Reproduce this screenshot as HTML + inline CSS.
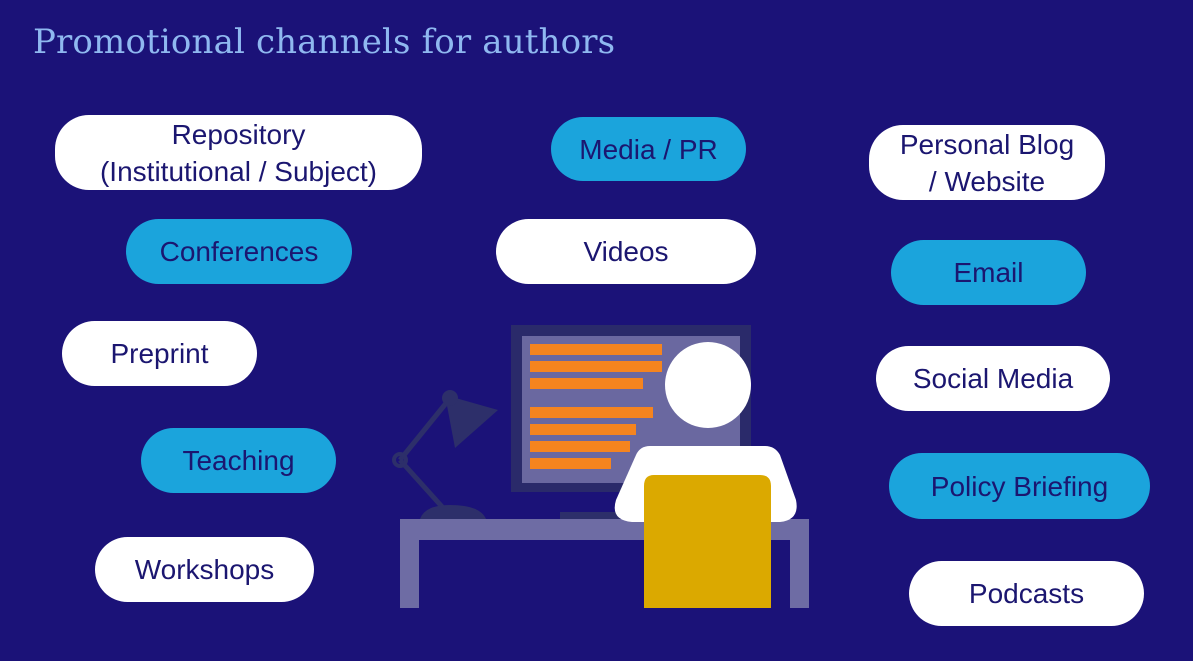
<!DOCTYPE html>
<html><head><style>
body{margin:0;width:1193px;height:661px;background:#1b1278;position:relative;overflow:hidden;font-family:"Liberation Sans",sans-serif}
h1{position:absolute;left:33px;top:22px;margin:0;font:400 34px "DejaVu Serif",serif;color:#8fb8f0;letter-spacing:0.15px}
.p{position:absolute;border-radius:34px;display:flex;align-items:center;justify-content:center;text-align:center;color:#1b1670;font-size:28px;line-height:37px}
.w{background:#fff}.b{background:#1ba4dc}
</style></head><body>
<h1>Promotional channels for authors</h1>
<div class="p w" style="left:55px;top:115px;width:367px;height:75px">Repository<br>(Institutional / Subject)</div>
<div class="p b" style="left:551px;top:117px;width:195px;height:64px">Media / PR</div>
<div class="p w" style="left:869px;top:125px;width:236px;height:75px">Personal Blog<br>/ Website</div>
<div class="p b" style="left:126px;top:219px;width:226px;height:65px">Conferences</div>
<div class="p w" style="left:496px;top:219px;width:260px;height:65px">Videos</div>
<div class="p b" style="left:891px;top:240px;width:195px;height:65px">Email</div>
<div class="p w" style="left:62px;top:321px;width:195px;height:65px">Preprint</div>
<div class="p w" style="left:876px;top:346px;width:234px;height:65px">Social Media</div>
<div class="p b" style="left:141px;top:428px;width:195px;height:65px">Teaching</div>
<div class="p b" style="left:889px;top:453px;width:261px;height:66px">Policy Briefing</div>
<div class="p w" style="left:95px;top:537px;width:219px;height:65px">Workshops</div>
<div class="p w" style="left:909px;top:561px;width:235px;height:65px">Podcasts</div>
<svg style="position:absolute;left:0;top:0" width="1193" height="661">
<g fill="#2d2f6a" stroke="#2d2f6a">
<line x1="400" y1="460" x2="447" y2="402" stroke-width="5"/>
<line x1="400" y1="460" x2="445" y2="510" stroke-width="5"/>
<circle cx="400" cy="460" r="6" fill="none" stroke-width="4"/>
<path d="M445 395 L498 410 L455 448 Z" stroke="none"/>
<circle cx="450" cy="398" r="8" stroke="none"/>
<path d="M420 519 Q425 505 450 505 Q480 505 486 519 Z" stroke="none"/>
<rect x="560" y="512" width="60" height="7" stroke="none"/>
</g>
<rect x="511" y="325" width="240" height="167" fill="#2a2a6a"/>
<rect x="522" y="336" width="218" height="147" fill="#6a68a0"/>
<g fill="#f5841f">
<rect x="530" y="344" width="132" height="11"/><rect x="530" y="361" width="132" height="11"/>
<rect x="530" y="378" width="113" height="11"/><rect x="530" y="407" width="123" height="11"/>
<rect x="530" y="424" width="106" height="11"/><rect x="530" y="441" width="100" height="11"/>
<rect x="530" y="458" width="81" height="11"/>
</g>
<rect x="400" y="519" width="409" height="21" fill="#6e6ca4"/>
<rect x="400" y="519" width="19" height="89" fill="#6e6ca4"/>
<rect x="790" y="519" width="19" height="89" fill="#6e6ca4"/>
<circle cx="708" cy="385" r="43" fill="#fff"/>
<path d="M650 446 L765 446 Q775 446 780 455 L796 500 Q800 520 780 522 L632 522 Q610 520 616 500 L636 455 Q640 446 650 446 Z" fill="#fff"/>
<path d="M654 475 L760 475 Q771 475 771 486 L771 608 L644 608 L644 486 Q644 475 654 475 Z" fill="#dba900"/>
</svg>
</body></html>
